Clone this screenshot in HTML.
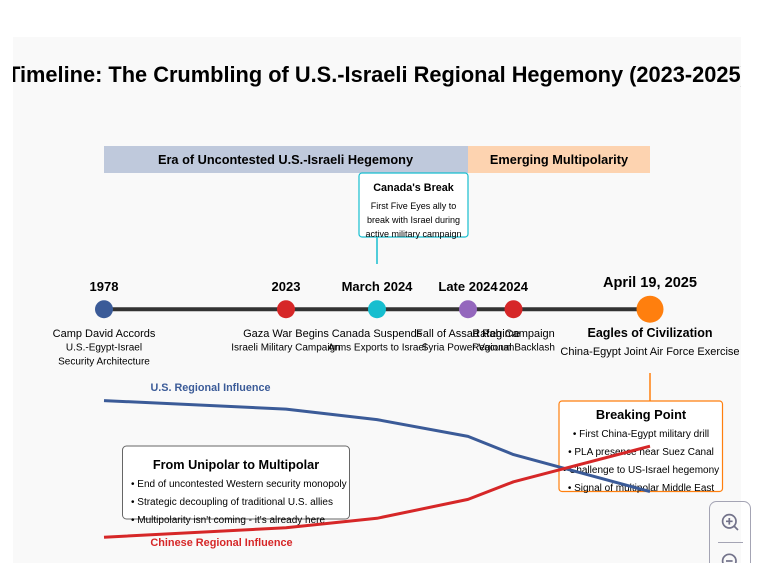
<!DOCTYPE html>
<html lang="en">
<head>
<meta charset="utf-8">
<title>Timeline: The Crumbling of U.S.-Israeli Regional Hegemony</title>
<style>
html,body{margin:0;padding:0;background:#fff;width:759px;height:563px;overflow:hidden}
svg{position:absolute;left:0;top:0;display:block}
text{font-family:"Liberation Sans",Arial,sans-serif;fill:#000}
</style>
</head>
<body>
<svg id="chart" width="759" height="563" viewBox="0 0 759 563" xmlns="http://www.w3.org/2000/svg">
  <defs><clipPath id="plot-clip"><rect x="13" y="37" width="728" height="526"/></clipPath></defs>
  <rect x="13" y="37" width="728" height="526" fill="#f9f9f9"/>
  <g clip-path="url(#plot-clip)">
    <text x="377.500" y="82" text-anchor="middle" font-size="21.800" font-weight="700">Timeline: The Crumbling of U.S.-Israeli Regional Hegemony (2023-2025)</text>
    <rect x="104" y="146" width="364" height="27" fill="#bfc9dc"/>
    <rect x="468" y="146" width="182" height="27" fill="#fdd3b0"/>
    <text x="285.500" y="164" text-anchor="middle" font-size="12.750" font-weight="700">Era of Uncontested U.S.-Israeli Hegemony</text>
    <text x="559" y="164" text-anchor="middle" font-size="12.750" font-weight="700">Emerging Multipolarity</text>

    <line x1="377" y1="237" x2="377" y2="264" stroke="#17becf" stroke-width="1.5"/>
    <rect x="359" y="173" width="109" height="64" rx="3" fill="#fff" stroke="#17becf" stroke-width="1.2"/>
    <text x="413.500" y="191" text-anchor="middle" font-size="10.800" font-weight="700">Canada's Break</text>
    <text x="413.500" y="209" text-anchor="middle" font-size="9">First Five Eyes ally to</text>
    <text x="413.500" y="223" text-anchor="middle" font-size="9">break with Israel during</text>
    <text x="413.500" y="237" text-anchor="middle" font-size="9">active military campaign</text>

    <line x1="104" y1="309.200" x2="650" y2="309.200" stroke="#333" stroke-width="4"/>
    <g id="milestones"></g>

    <line x1="650" y1="373" x2="650" y2="401" stroke="#ff7f0e" stroke-width="1.5"/>
    <rect x="559" y="401" width="163.500" height="90.500" rx="3" fill="#fff" stroke="#ff7f0e" stroke-width="1.2"/>
    <text x="641" y="419" text-anchor="middle" font-size="12.800" font-weight="700">Breaking Point</text>
    <text x="641" y="437" text-anchor="middle" font-size="10">• First China-Egypt military drill</text>
    <text x="641" y="455" text-anchor="middle" font-size="10">• PLA presence near Suez Canal</text>
    <text x="641" y="473" text-anchor="middle" font-size="10">• Challenge to US-Israel hegemony</text>
    <text x="641" y="491" text-anchor="middle" font-size="10">• Signal of multipolar Middle East</text>

    <rect x="122.500" y="446" width="227" height="73" rx="4" fill="#fff" stroke="#666" stroke-width="1"/>
    <text x="236" y="469" text-anchor="middle" font-size="12.700" font-weight="700">From Unipolar to Multipolar</text>
    <text x="131" y="487" font-size="10">• End of uncontested Western security monopoly</text>
    <text x="131" y="505" font-size="10">• Strategic decoupling of traditional U.S. allies</text>
    <text x="131" y="523" font-size="10">• Multipolarity isn't coming - it's already here</text>

    <g id="influence-lines"></g>
    <text x="210.500" y="391" text-anchor="middle" font-size="10.800" font-weight="700" style="fill:#3b5b98">U.S. Regional Influence</text>
    <text x="221.500" y="546" text-anchor="middle" font-size="10.900" font-weight="700" style="fill:#d62728">Chinese Regional Influence</text>
  </g>

  <g>
    <rect x="709.500" y="501.500" width="41" height="80" rx="7" fill="none" stroke="#a4a4b4" stroke-width="1"/>
    <g fill="none" stroke="#72728a" stroke-width="1.700">
      <circle cx="729.300" cy="521.300" r="6.700"/>
      <path d="M734 526l4 4M726 521.300h6.600M729.300 518v6.600"/>
    </g>
    <line x1="718" y1="542.500" x2="743" y2="542.500" stroke="#a4a4b4" stroke-width="1"/>
    <g fill="none" stroke="#72728a" stroke-width="1.700">
      <circle cx="729.300" cy="561" r="6.700"/>
      <path d="M726 561h6.600"/>
    </g>
  </g>
</svg>
<script>
const progress = [0, 33.33, 50, 66.67, 75, 100];
const dates = ["1978", "2023", "March 2024", "Late 2024", "2024", "April 19, 2025"];
const eventTitles = ["Camp David Accords", "Gaza War Begins", "Canada Suspends", "Fall of Assad Regime", "Rafah Campaign", "Eagles of Civilization"];
const eventLine1 = ["U.S.-Egypt-Israel", "Israeli Military Campaign", "Arms Exports to Israel", "Syria Power Vacuum", "Regional Backlash", "China-Egypt Joint Air Force Exercise"];
const eventLine2 = ["Security Architecture", "", "", "", "", ""];
const dotColors = ["#3b5b98", "#d62728", "#17becf", "#9467bd", "#d62728", "#ff7f0e"];
const usInfluence = [99.6, 93.5, 86, 74, 61, 34.6];
const chinaInfluence = [2, 8.8, 15.5, 29, 41.6, 67];

const NS = 'http://www.w3.org/2000/svg';
const xAxis = p => 104 + p * 5.46;
const yAxis = v => 540 - v * 1.4;

const milestoneLayer = document.getElementById('milestones');
function addText(x, y, size, weight, content, name) {
  const t = document.createElementNS(NS, 'text');
  t.setAttribute('x', x);
  t.setAttribute('y', y);
  t.setAttribute('text-anchor', 'middle');
  t.setAttribute('font-size', size);
  t.setAttribute('font-weight', weight);
  t.textContent = content;
  
  
  milestoneLayer.appendChild(t);
}
progress.forEach((p, i) => {
  const x = xAxis(p);
  const last = i === progress.length - 1;
  const dot = document.createElementNS(NS, 'circle');
  dot.setAttribute('cx', x);
  dot.setAttribute('cy', 309.2);
  dot.setAttribute('r', last ? 13.5 : 9);
  dot.setAttribute('fill', dotColors[i]);
  
  
  milestoneLayer.appendChild(dot);
  addText(x, last ? 287 : 291, last ? 14.6 : 13, 700, dates[i], 'milestone-date');
  addText(x, 337, last ? 12.5 : 11, last ? 700 : 400, eventTitles[i], 'milestone-title');
  addText(x, last ? 355 : 350.5, last ? 11 : 10, 400, eventLine1[i], 'milestone-detail');
  if (eventLine2[i]) {
    addText(x, 364.5, 10, 400, eventLine2[i], 'milestone-detail-second-line');
  }
});

const lineLayer = document.getElementById('influence-lines');
function drawLine(values, color, name) {
  const path = document.createElementNS(NS, 'path');
  const d = values.map((v, i) => (i ? 'L' : 'M') + xAxis(progress[i]).toFixed(1) + ' ' + yAxis(v).toFixed(1)).join(' ');
  path.setAttribute('d', d);
  path.setAttribute('fill', 'none');
  path.setAttribute('stroke', color);
  path.setAttribute('stroke-width', 3);
  path.setAttribute('stroke-linejoin', 'round');
  
  
  lineLayer.appendChild(path);
}
drawLine(usInfluence, '#3b5b98', 'us-influence-line');
drawLine(chinaInfluence, '#d62728', 'china-influence-line');
</script>
</body>
</html>
